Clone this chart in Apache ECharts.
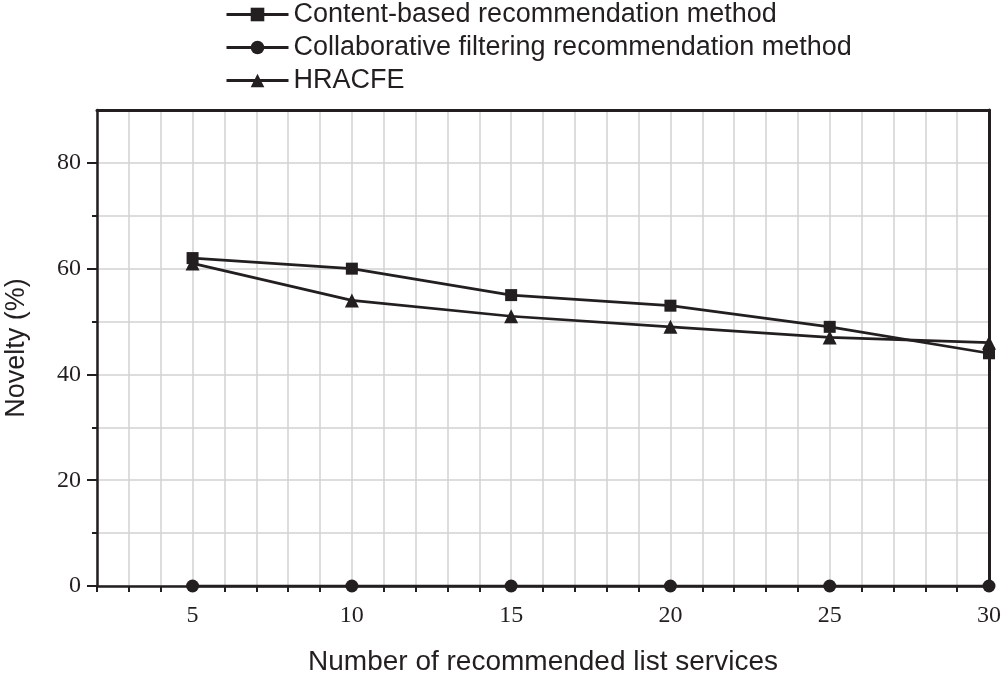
<!DOCTYPE html>
<html>
<head>
<meta charset="utf-8">
<script src="https://cdn.jsdelivr.net/npm/echarts@6/dist/echarts.min.js"></script>
<style>
html,body{margin:0;padding:0;background:#fff;}
#chart{width:1002px;height:680px;}
</style>
</head>
<body>
<div id="chart"></div>
<script>
const xValues = [5, 10, 15, 20, 25, 30];
const contentBased = [62, 60, 55, 53, 49, 44];
const collaborative = [0, 0, 0, 0, 0, 0];
const hracfe = [61, 54, 51, 49, 47, 46];
const seriesNames = ['Content-based recommendation method', 'Collaborative filtering recommendation method', 'HRACFE'];
const xTickLabels = [5, 10, 15, 20, 25, 30];
const yTickLabels = [0, 20, 40, 60, 80];
const yMinorTicks = [0, 10, 20, 30, 40, 50, 60, 70, 80];

const ink = '#231f20';
const sans = 'Liberation Sans, Arial, sans-serif';
const serif = 'Liberation Serif, Times New Roman, serif';
const pair = (arr) => xValues.map((x, i) => [x, arr[i]]);

const chart = echarts.init(document.getElementById('chart'));
const mkSeries = (name, data, symbol, size) => ({
  name, type: 'line', data: pair(data), symbol, symbolSize: size,
  clip: false, z: 5,
  lineStyle: { color: ink, width: 2.7 },
  itemStyle: { color: ink, borderWidth: 0 }
});
chart.setOption({
  animation: false,
  backgroundColor: '#fff',
  legend: {
    orient: 'vertical', left: 220, top: -4,
    itemWidth: 62, itemHeight: 17, itemGap: 6,
    lineStyle: { width: 3 },
    textStyle: { fontFamily: sans, fontSize: 27, color: ink },
    data: seriesNames
  },
  grid: { left: 97, right: 13, top: 110, bottom: 94, show: false, containLabel: false, outerBoundsMode: 'none' },
  xAxis: [{
    type: 'value', min: 2, max: 30, interval: 1,
    name: 'Number of recommended list services', nameLocation: 'middle', nameGap: 62,
    nameTextStyle: { fontFamily: sans, fontSize: 28, color: ink },
    axisLine: { show: true, onZero: false, lineStyle: { color: ink, width: 2.5 } },
    axisTick: { show: true, length: 6, inside: false, lineStyle: { color: ink, width: 2 } },
    axisLabel: { customValues: xTickLabels, margin: 18, fontFamily: serif, fontSize: 24, color: ink },
    splitLine: { show: true, lineStyle: { color: '#d2d2d2', width: 1.5 } }
  }, {
    type: 'value', min: 2, max: 30, position: 'top',
    axisLine: { show: true, onZero: false, lineStyle: { color: ink, width: 3 } },
    axisTick: { show: false }, axisLabel: { show: false }, splitLine: { show: false }
  }],
  yAxis: [{
    type: 'value', min: 0, max: 90, interval: 10,
    name: 'Novelty (%)', nameLocation: 'middle', nameGap: 67,
    nameTextStyle: { fontFamily: sans, fontSize: 27, color: ink },
    axisLine: { show: true, onZero: false, lineStyle: { color: ink, width: 2.5 } },
    axisTick: { show: true, customValues: yMinorTicks, length: 5, lineStyle: { color: ink, width: 2 } },
    axisLabel: { customValues: yTickLabels, margin: 16, fontFamily: serif, fontSize: 24, color: ink },
    splitLine: { show: true, lineStyle: { color: '#d2d2d2', width: 1.5 } }
  }, {
    type: 'value', min: 0, max: 90, position: 'left', interval: 10,
    axisLine: { show: false, onZero: false },
    axisTick: { show: true, customValues: yTickLabels, length: 10, lineStyle: { color: ink, width: 2 } },
    axisLabel: { show: false },
    splitLine: { show: false }
  }, {
    type: 'value', min: 0, max: 90, position: 'right',
    axisLine: { show: true, onZero: false, lineStyle: { color: ink, width: 3 } },
    axisTick: { show: false }, axisLabel: { show: false }, splitLine: { show: false }
  }],
  series: [
    mkSeries(seriesNames[0], contentBased, 'rect', 12),
    mkSeries(seriesNames[1], collaborative, 'circle', 13),
    mkSeries(seriesNames[2], hracfe, 'triangle', 14)
  ]
});
</script>
</body>
</html>
